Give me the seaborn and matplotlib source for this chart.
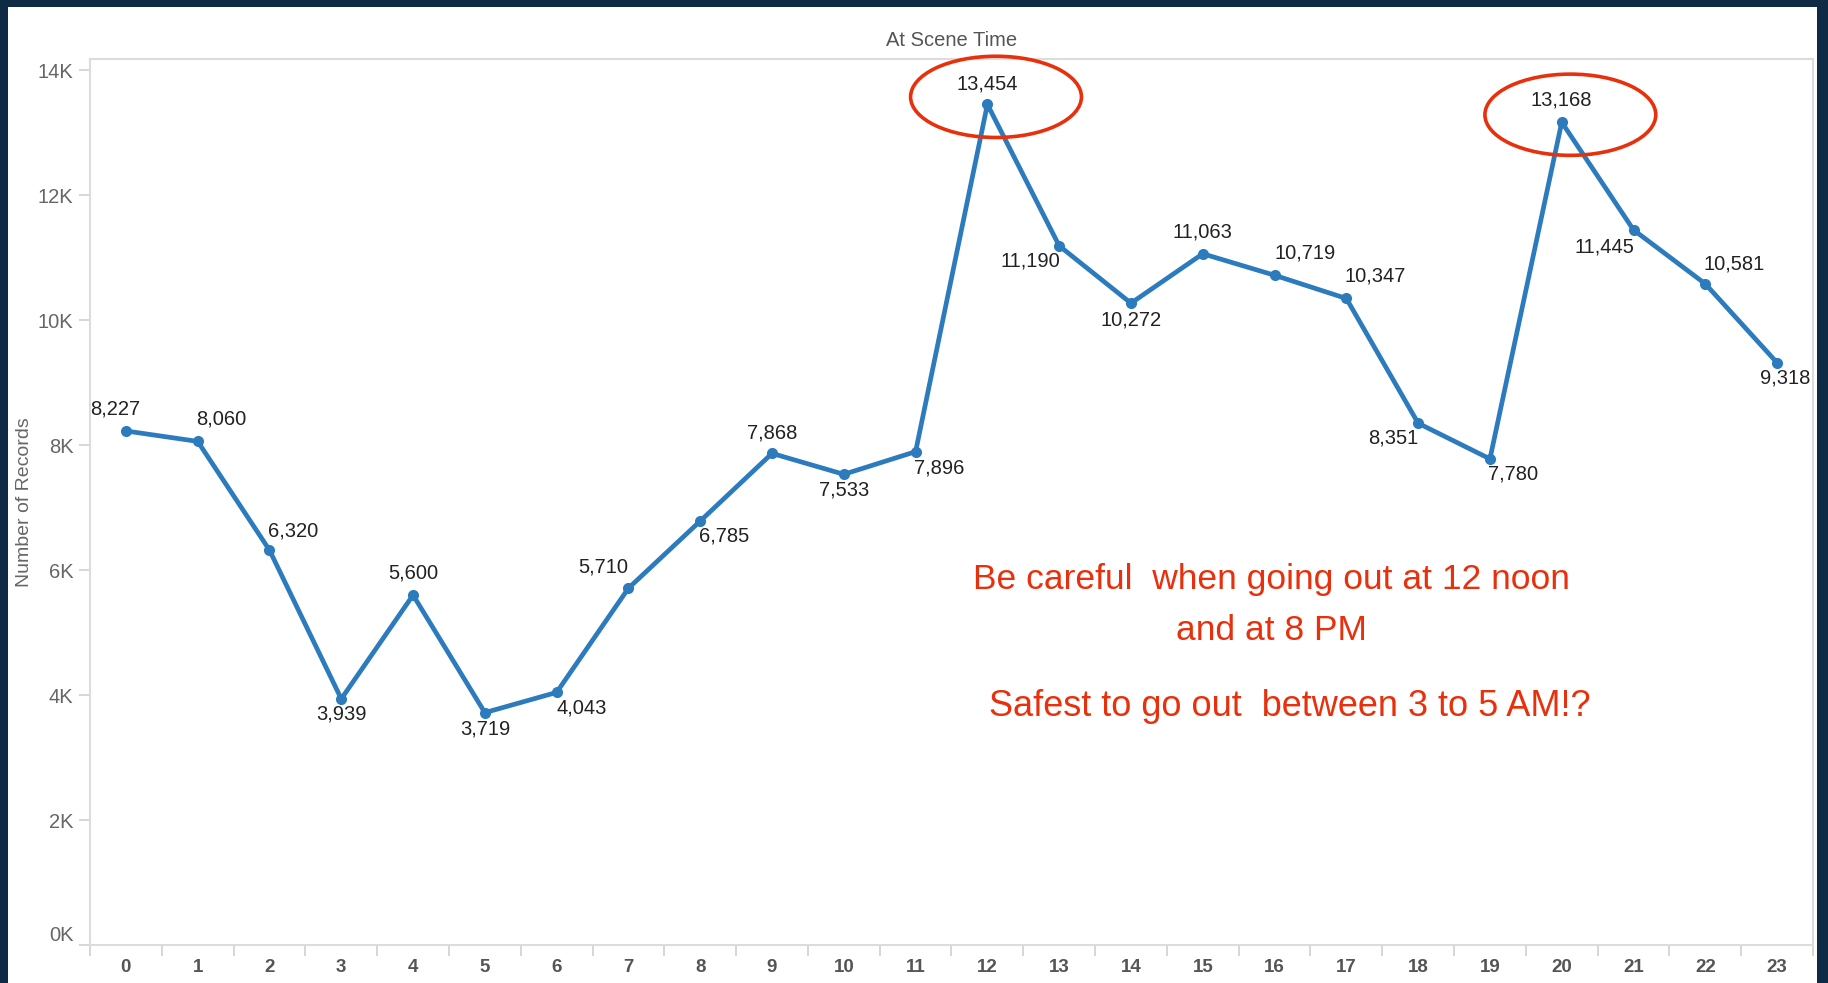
import matplotlib.pyplot as plt
import numpy as np
import pandas as pd
import seaborn as sns
from matplotlib.patches import Ellipse, Rectangle

# data: number of records per hour of "At Scene Time"
hours = list(range(24))
records = [8227, 8060, 6320, 3939, 5600, 3719, 4043, 5710, 6785, 7868, 7533, 7896,
           13454, 11190, 10272, 11063, 10719, 10347, 8351, 7780, 13168, 11445, 10581, 9318]
highlight_hours = [12, 20]
y_ticks = [0, 2000, 4000, 6000, 8000, 10000, 12000, 14000]
y_tick_labels = ["0K", "2K", "4K", "6K", "8K", "10K", "12K", "14K"]
note_lines = ["Be careful  when going out at 12 noon", "and at 8 PM",
              "Safest to go out  between 3 to 5 AM!?"]

# label offsets (points) so labels sit like the original
label_offsets = [(-8, 16), (17, 16), (17, 14), (0, -11), (0, 16), (0, -12), (18, -11), (-18, 15),
                 (17, -11), (0, 15), (0, -11), (17, -12), (0, 15), (-21, -11), (0, -12), (0, 16),
                 (22, 16), (21, 16), (-18, -11), (17, -11), (0, 16), (-21, -12), (21, 14), (6, -11)]

df = pd.DataFrame({"hour": hours, "records": records})

sns.set_theme(style="white")
plt.rcParams["font.family"] = ["Liberation Sans", "DejaVu Sans"]

W, H = 1828, 983
fig = plt.figure(figsize=(W / 100, H / 100), dpi=100)
fig.patch.set_facecolor("#0f2a44")
# white card behind the chart
fig.add_artist(Rectangle((8 / W, 0), (1817 - 8) / W, (983 - 7) / H,
                         transform=fig.transFigure, facecolor="white", edgecolor="none", zorder=-10))

ax = fig.add_axes([90 / W, (H - 945) / H, (1813 - 90) / W, (945 - 59) / H])
ax.set_facecolor("white")

blue = "#2c7bbd"
sns.lineplot(data=df, x="hour", y="records", ax=ax, color=blue, linewidth=3.4,
             marker="o", markersize=8, markeredgewidth=0)

for h, v, (dx, dy) in zip(hours, records, label_offsets):
    ax.annotate(f"{v:,}", (h, v), xytext=(dx, dy), textcoords="offset points",
                ha="center", va="center", fontsize=14.5, color="#222222")

red = "#e8300c"
for h in highlight_hours:
    v = records[h]
    ax.add_patch(Ellipse((h + 0.12, v + 120), 2.38, 1300, fill=False,
                         edgecolor=red, linewidth=2.6, zorder=5, clip_on=False))

ax.set_xlim(-0.5, 23.5)
ax.set_ylim(0, 14180)
ax.set_xticks(hours)
ax.set_xticklabels([str(h) for h in hours], fontsize=13.5, fontweight="bold", color="#555555")
ax.set_xticks(np.arange(-0.5, 24, 1), minor=True)
ax.tick_params(axis="x", which="major", length=0, pad=10)
ax.tick_params(axis="x", which="minor", length=8, width=1.2, color="#d0d0d0", bottom=True)
ax.set_yticks(y_ticks)
ax.set_yticklabels(y_tick_labels, fontsize=14.5, color="#666666")
ax.tick_params(axis="y", length=8, width=1.2, color="#d0d0d0", left=True, pad=4)
ax.get_yticklabels()[0].set_va("bottom")

for s in ax.spines.values():
    s.set_color("#dcdcdc")
    s.set_linewidth(1.5)

ax.set_xlabel("")
ax.set_ylabel("Number of Records", fontsize=14, color="#666666")
ax.yaxis.set_label_coords(-0.033, 0.5)
ax.set_title("At Scene Time", fontsize=14.5, color="#555555", pad=9)

fig.text(1271 / W, 1 - 579 / H, note_lines[0], color=red, fontsize=25.5, ha="center", va="center")
fig.text(1271 / W, 1 - 630 / H, note_lines[1], color=red, fontsize=25.5, ha="center", va="center")
fig.text(1290 / W, 1 - 706 / H, note_lines[2], color=red, fontsize=26, ha="center", va="center")

fig.savefig("out.png", dpi=100, facecolor=fig.get_facecolor())
